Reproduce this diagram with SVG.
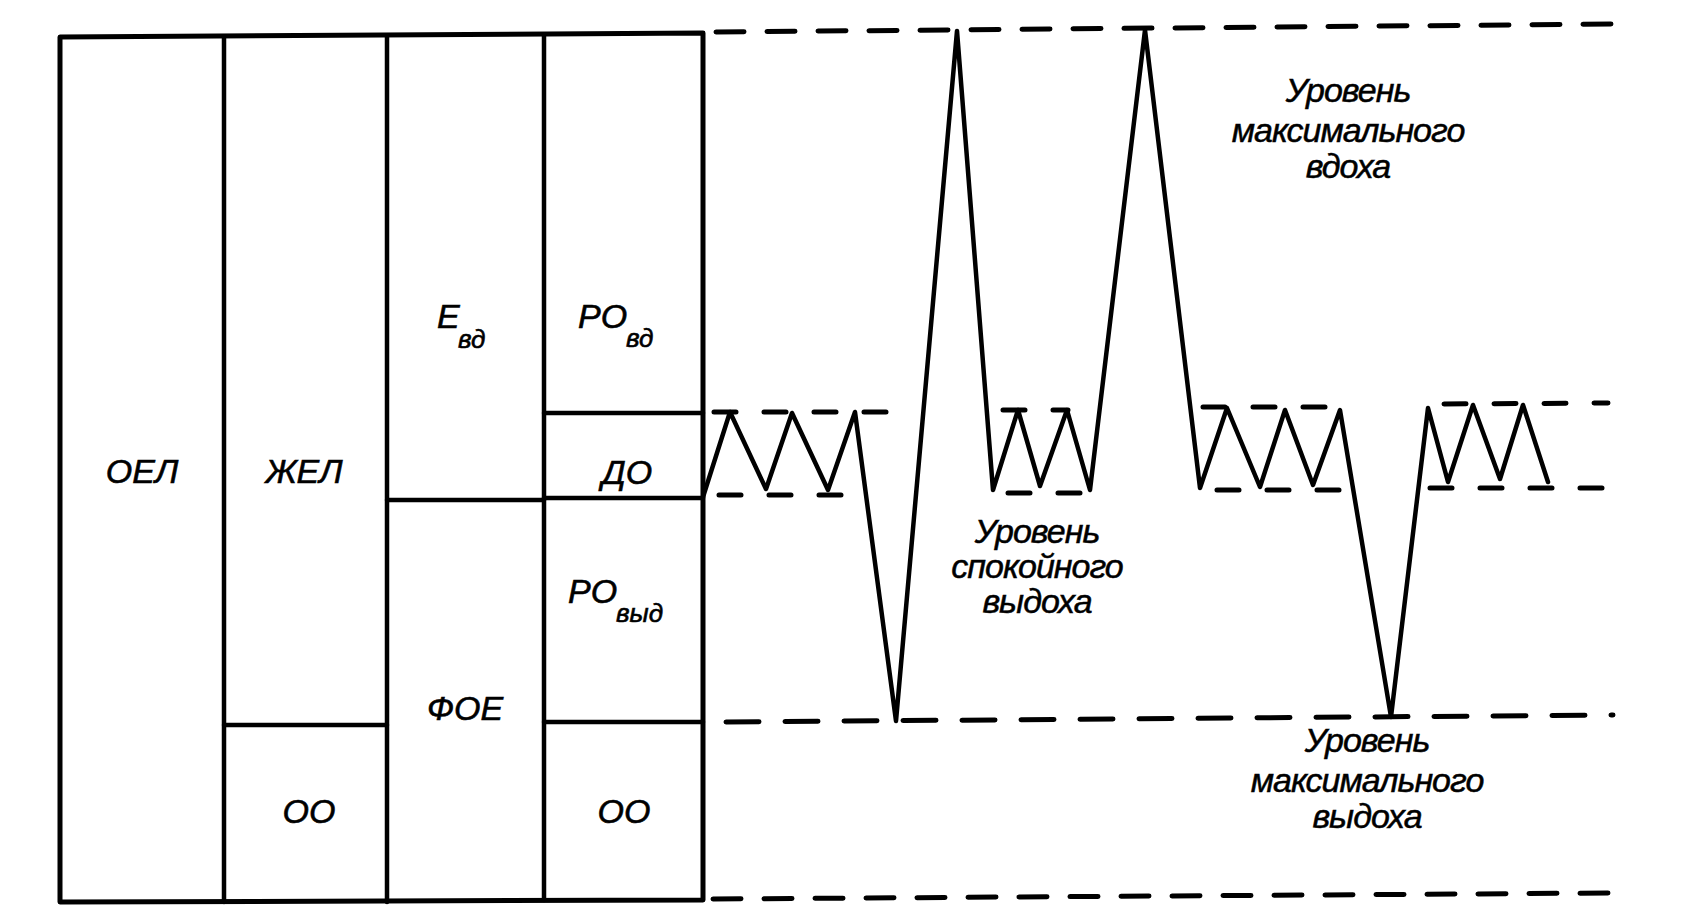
<svg xmlns="http://www.w3.org/2000/svg" width="1708" height="921" viewBox="0 0 1708 921">
<style>
.bg{fill:#fff}
.box{fill:none;stroke:#000;stroke-width:5;stroke-linejoin:round;stroke-linecap:round}
.inner{fill:none;stroke:#000;stroke-width:4.5;stroke-linecap:round}
.lbl{font-family:"Liberation Sans",Arial,sans-serif;font-style:italic;font-size:34px;fill:#000;stroke:#000;stroke-width:0.6}
.sub{font-family:"Liberation Sans",Arial,sans-serif;font-style:italic;font-size:26px;fill:#000;stroke:#000;stroke-width:0.6}
.note{font-family:"Liberation Sans",Arial,sans-serif;font-style:italic;font-size:34px;fill:#000;text-anchor:middle;letter-spacing:-1px;stroke:#000;stroke-width:0.5}
.mid{text-anchor:middle}
.dash{fill:none;stroke:#000;stroke-width:5;stroke-linecap:round}
.d1{stroke-dasharray:28 23}
.d2{stroke-dasharray:22 28}
.d3{stroke-dasharray:33 26}
.wave{fill:none;stroke:#000;stroke-width:4.5;stroke-linejoin:round;stroke-linecap:round}
</style>
<rect class="bg" x="0" y="0" width="1708" height="921"/>
<g id="volumes">
  <path id="frame" class="box" d="M60,37 L703,33 L703,900 L60,902 Z"/>
  <g id="col-oel">
    <text class="lbl mid" x="142" y="483">ОЕЛ</text>
  </g>
  <g id="col-zhel">
    <line class="inner" x1="224" y1="37" x2="224" y2="902"/>
    <text class="lbl mid" x="304" y="483">ЖЕЛ</text>
  </g>
  <g id="cell-oo-1">
    <line class="inner" x1="224" y1="725" x2="387" y2="725"/>
    <text class="lbl mid" x="309" y="823">ОО</text>
  </g>
  <g id="cell-evd">
    <line class="inner" x1="387" y1="36" x2="387" y2="902"/>
    <text class="lbl" x="437" y="328">Е</text>
    <text class="sub" x="458" y="348">вд</text>
  </g>
  <g id="cell-foe">
    <line class="inner" x1="387" y1="500" x2="544" y2="500"/>
    <text class="lbl mid" x="465" y="720">ФОЕ</text>
  </g>
  <g id="cell-rovd">
    <line class="inner" x1="544" y1="35" x2="544" y2="900"/>
    <text class="lbl" x="578" y="328">РО</text>
    <text class="sub" x="626" y="347">вд</text>
  </g>
  <g id="cell-do">
    <line class="inner" x1="544" y1="413" x2="703" y2="413"/>
    <text class="lbl mid" x="627" y="484">ДО</text>
  </g>
  <g id="cell-rovyd">
    <line class="inner" x1="544" y1="498" x2="703" y2="498"/>
    <text class="lbl" x="568" y="603">РО</text>
    <text class="sub" x="616" y="622">выд</text>
  </g>
  <g id="cell-oo-2">
    <line class="inner" x1="544" y1="722" x2="703" y2="722"/>
    <text class="lbl mid" x="624" y="823">ОО</text>
  </g>
</g>
<g id="connectors">
  <line id="lvl-max-in" class="dash d1" x1="716" y1="32" x2="1614" y2="24"/>
  <g id="lvl-tidal-top">
    <line class="dash d2" x1="714" y1="412" x2="897" y2="412"/>
    <line class="dash d2" x1="1003" y1="410" x2="1068" y2="410"/>
    <line class="dash d2" x1="1203" y1="407" x2="1325" y2="407"/>
    <line class="dash d2" x1="1444" y1="404" x2="1608" y2="403"/>
  </g>
  <g id="lvl-tidal-bottom">
    <line class="dash d2" x1="719" y1="495" x2="855" y2="495"/>
    <line class="dash d2" x1="1008" y1="493" x2="1080" y2="493"/>
    <line class="dash d2" x1="1217" y1="490" x2="1345" y2="490"/>
    <line class="dash d2" x1="1430" y1="488" x2="1610" y2="488"/>
  </g>
  <line id="lvl-max-out" class="dash d3" x1="726" y1="722" x2="1613" y2="715"/>
  <line id="lvl-bottom" class="dash d1" x1="713" y1="899" x2="1610" y2="893"/>
  <polyline id="spirogram" class="wave" points="703,497 730,412 766,489 792,413 828,490 855,412 896,721 957,31 993,490 1018,410 1040,486 1067,410 1090,490 1145,30 1200,488 1227,408 1260,487 1285,410 1313,485 1340,410 1391,717 1428,408 1448,482 1473,405 1500,479 1523,405 1548,482"/>
</g>
<g id="labels">
  <text class="note" x="1348" y="102">Уровень</text>
  <text class="note" x="1348" y="142">максимального</text>
  <text class="note" x="1348" y="178">вдоха</text>
  <text class="note" x="1037" y="543">Уровень</text>
  <text class="note" x="1037" y="578">спокойного</text>
  <text class="note" x="1037" y="613">выдоха</text>
  <text class="note" x="1367" y="752">Уровень</text>
  <text class="note" x="1367" y="792">максимального</text>
  <text class="note" x="1367" y="828">выдоха</text>
</g>
</svg>
